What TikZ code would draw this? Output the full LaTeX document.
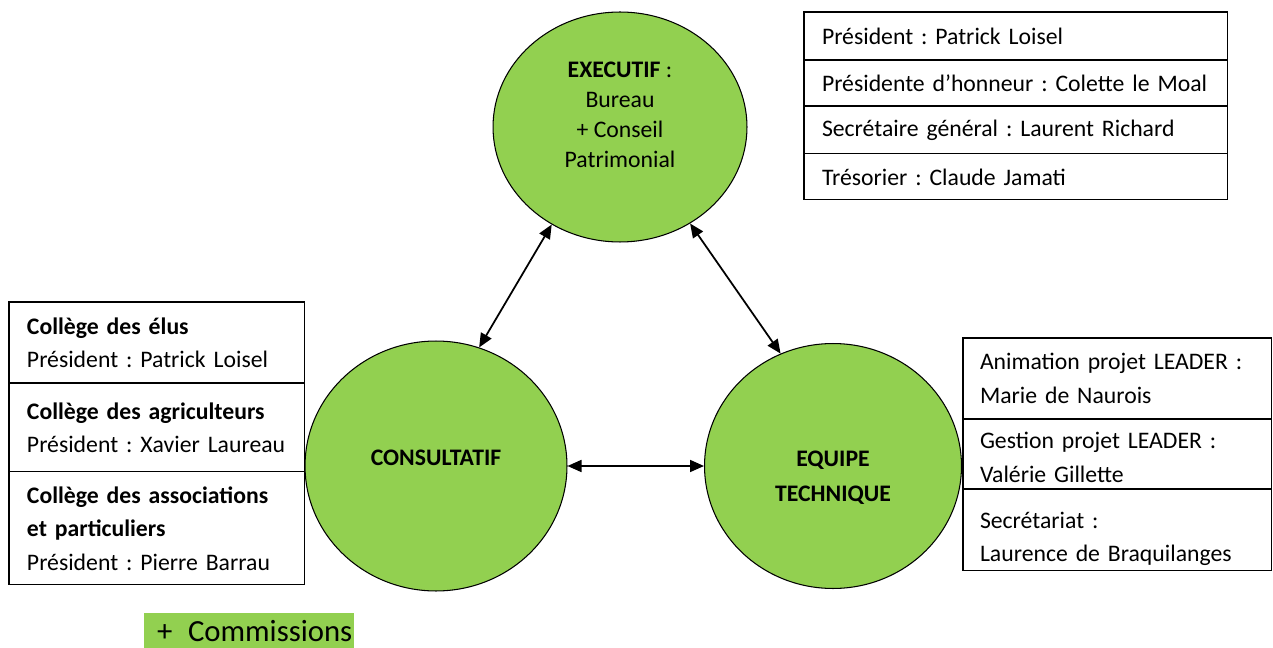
\documentclass[tikz,border=0pt]{standalone}
\usepackage{fontspec}
\setmainfont{Carlito}
\frenchspacing
\usetikzlibrary{shapes.geometric,arrows.meta,positioning}
\definecolor{leafgreen}{RGB}{146,208,80}
\newcommand{\boxfont}{\fontsize{13.5}{19}\selectfont\hyphenpenalty=10000}
\newcommand{\polefont}{\fontsize{13.5}{17}\selectfont}
\tikzset{
	pole/.style = {draw, fill=leafgreen, ellipse, inner sep=0pt, align=center, font=\polefont, line width=0.6pt},
	infobox/.style = {draw, rectangle, outer sep=0pt, inner xsep=0.36cm, inner ysep=0pt, align=left, anchor=north west, font=\boxfont, line width=0.6pt},
	link/.style = {{Triangle[length=0.28cm,width=0.24cm]}-{Triangle[length=0.28cm,width=0.24cm]}, line width=1pt}
}
\begin{document}
\begin{tikzpicture}[x=0.02cm,y=-0.02cm]
		\useasboundingbox (0,0) rectangle (1273,648);
		% les trois poles
		\node[pole, minimum width=5.08cm, minimum height=4.6cm] (exec) at (620,127) {\textbf{EXECUTIF} :\\Bureau\\+ Conseil\\Patrimonial\\[-3pt]~};
		\node[pole, minimum width=5.24cm, minimum height=5cm] (cons) at (436,466) {\textbf{CONSULTATIF}\\[-8pt]~};
		\node[pole, minimum width=5.14cm, minimum height=4.9cm] (equipe) at (833,466) {~\\[5.5pt]\textbf{EQUIPE}\\[3pt]\textbf{TECHNIQUE}};
		\draw[link] (exec.235) -- (cons.70);
		\draw[link] (exec.306) -- (equipe.115);
		\draw[link] (cons.east) -- (equipe.west);
		% bureau
		\node[infobox, text width=7.76cm, minimum height=0.96cm] (bur1) at (804,12) {Président : Patrick Loisel};
		\node[infobox, text width=7.76cm, minimum height=0.92cm, below=0pt of bur1] (bur2) {Présidente d’honneur : Colette le Moal};
		\node[infobox, text width=7.76cm, minimum height=0.96cm, below=0pt of bur2] (bur3) {Secrétaire général : Laurent Richard};
		\node[infobox, text width=7.76cm, minimum height=0.92cm, below=0pt of bur3] (bur4) {Trésorier : Claude Jamati};
		% colleges
		\node[infobox, text width=5.2cm, minimum height=1.62cm] (col1) at (9,302) {\textbf{Collège des élus}\\Président : Patrick Loisel};
		\node[infobox, text width=5.2cm, minimum height=1.78cm, below=0pt of col1] (col2) {\textbf{Collège des agriculteurs}\\Président : Xavier Laureau};
		\node[infobox, text width=5.2cm, minimum height=2.26cm, below=0pt of col2] (col3) {\textbf{Collège des associations}\\\textbf{et particuliers}\\Président : Pierre Barrau};
		% equipe technique
		\node[infobox, inner xsep=0.34cm, text width=5.5cm, minimum height=1.62cm] (tec1) at (963,338) {Animation projet LEADER :\\Marie de Naurois};
		\node[infobox, inner xsep=0.34cm, text width=5.5cm, minimum height=1.4cm, text height=0.3cm, text depth=0.5cm, below=0pt of tec1] (tec2) {Gestion projet LEADER :\\Valérie Gillette};
		\node[infobox, inner xsep=0.34cm, text width=5.5cm, minimum height=1.64cm, text height=0.3cm, text depth=0.36cm, below=0pt of tec2] (tec3) {Secrétariat :\\Laurence de Braquilanges};
		% commissions
		\node[fill=leafgreen, anchor=north west, inner sep=0pt, minimum width=4.2cm, minimum height=0.7cm, text width=4.12cm, align=right, font=\fontsize{17.5}{20}\selectfont] (comm) at (144,613) {+\hspace{3pt} Commissions};
	\end{tikzpicture}
\end{document}
